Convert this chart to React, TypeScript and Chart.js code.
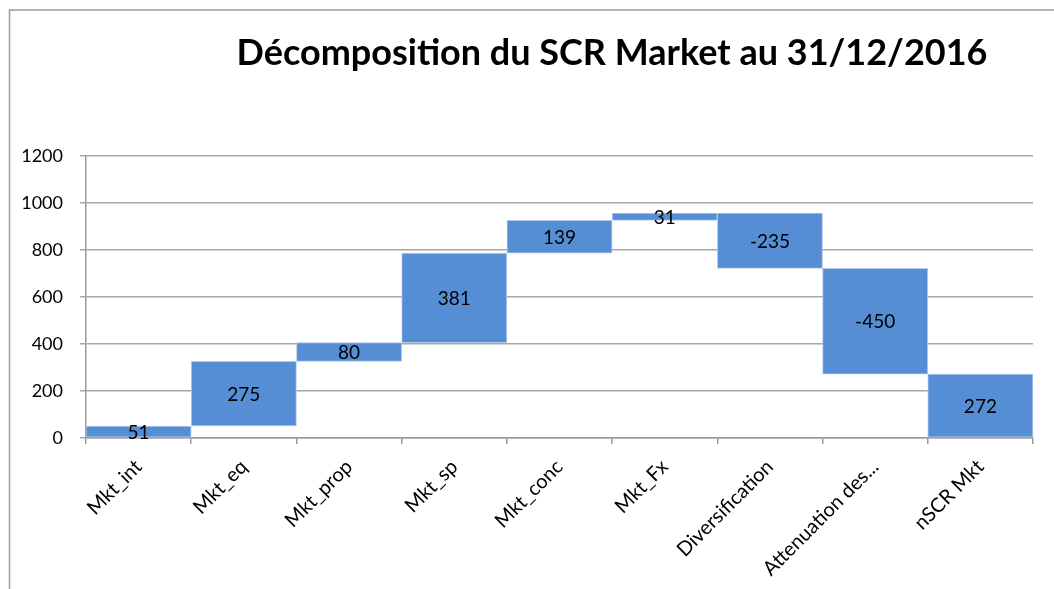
import React, { useEffect, useRef } from "react";
import { Chart, registerables } from "chart.js";

Chart.register(...registerables);

const titleText = "Décomposition du SCR Market au 31/12/2016";
const categories = [
  "Mkt_int",
  "Mkt_eq",
  "Mkt_prop",
  "Mkt_sp",
  "Mkt_conc",
  "Mkt_Fx",
  "Diversification",
  "Attenuation des...",
  "nSCR Mkt",
];
const deltas = [51, 275, 80, 381, 139, 31, -235, -450, 272];
const isTotal = [false, false, false, false, false, false, false, false, true];
const yTicks = [0, 200, 400, 600, 800, 1000, 1200];

const FONT = "Lato, 'Open Sans', sans-serif";
const BAR_COLOR = "#558ed5";

function buildRanges(): [number, number][] {
  const out: [number, number][] = [];
  let run = 0;
  deltas.forEach((d, i) => {
    if (isTotal[i]) {
      out.push([0, d]);
      run = d;
    } else {
      out.push([run, run + d]);
      run += d;
    }
  });
  return out;
}

const framePlugin = {
  id: "frame",
  beforeDraw(chart: any) {
    const { ctx } = chart;
    ctx.save();
    ctx.fillStyle = "#ffffff";
    ctx.fillRect(0, 0, chart.width, chart.height);
    ctx.strokeStyle = "#9a9a9a";
    ctx.lineWidth = 1.5;
    ctx.beginPath();
    ctx.moveTo(9.5, chart.height);
    ctx.lineTo(9.5, 10);
    ctx.lineTo(chart.width, 10);
    ctx.stroke();
    ctx.fillStyle = "#000000";
    ctx.font = `bold 36px ${FONT}`;
    ctx.textAlign = "center";
    ctx.textBaseline = "alphabetic";
    ctx.fillText(titleText, 612, 65);
    ctx.restore();
  },
};

const labelPlugin = {
  id: "barLabels",
  afterDatasetsDraw(chart: any) {
    const { ctx } = chart;
    const meta = chart.getDatasetMeta(0);
    ctx.save();
    ctx.fillStyle = "#000000";
    ctx.font = `19px ${FONT}`;
    ctx.textAlign = "center";
    ctx.textBaseline = "middle";
    meta.data.forEach((bar: any, i: number) => {
      const p = bar.getProps(["x", "y", "base"], true);
      const cy = (p.y + p.base) / 2;
      ctx.fillText(String(deltas[i]), p.x, cy + 1);
    });
    ctx.restore();
  },
};

export default function App() {
  const ref = useRef<HTMLCanvasElement>(null);
  useEffect(() => {
    if (!ref.current) return;
    const chart = new Chart(ref.current, {
      type: "bar",
      data: {
        labels: categories,
        datasets: [
          {
            data: buildRanges() as any,
            backgroundColor: BAR_COLOR,
            borderColor: "#b4cbec",
            borderWidth: 1,
            borderSkipped: false,
            barPercentage: 1,
            categoryPercentage: 1,
          },
        ],
      },
      options: {
        animation: false,
        responsive: false,
        devicePixelRatio: 1,
        layout: { padding: { top: 156, left: 0, right: 21, bottom: 1 } },
        plugins: {
          legend: { display: false },
          title: { display: false },
          tooltip: { enabled: false },
        },
        scales: {
          x: {
            afterFit: (s: any) => {
              s.height = 150;
            },
            grid: {
              drawOnChartArea: false,
              drawTicks: true,
              tickLength: 6,
              color: "#9a9a9a",
              lineWidth: 1.5,
            },
            border: { color: "#9a9a9a", width: 1.5 },
            ticks: {
              autoSkip: false,
              maxRotation: 45,
              minRotation: 45,
              padding: 11,
              color: "#000000",
              font: { family: FONT, size: 20 },
            },
          },
          y: {
            min: 0,
            max: 1200,
            afterFit: (s: any) => {
              s.width = 86;
            },
            afterBuildTicks: (s: any) => {
              s.ticks = yTicks.map((v) => ({ value: v }));
            },
            grid: {
              color: "#a6a6a6",
              lineWidth: 1.5,
              tickLength: 6,
            },
            border: { color: "#9a9a9a", width: 1.5 },
            ticks: {
              padding: 17,
              color: "#000000",
              font: { family: FONT, size: 18 },
              callback: (v: any) => String(v),
            },
          },
        },
      },
      plugins: [framePlugin, labelPlugin],
    });
    return () => chart.destroy();
  }, []);
  return (
    <div style={{ position: "absolute", left: 0, top: 0, width: 1054, height: 589 }}>
      <canvas ref={ref} width={1054} height={589} style={{ display: "block" }} />
    </div>
  );
}
